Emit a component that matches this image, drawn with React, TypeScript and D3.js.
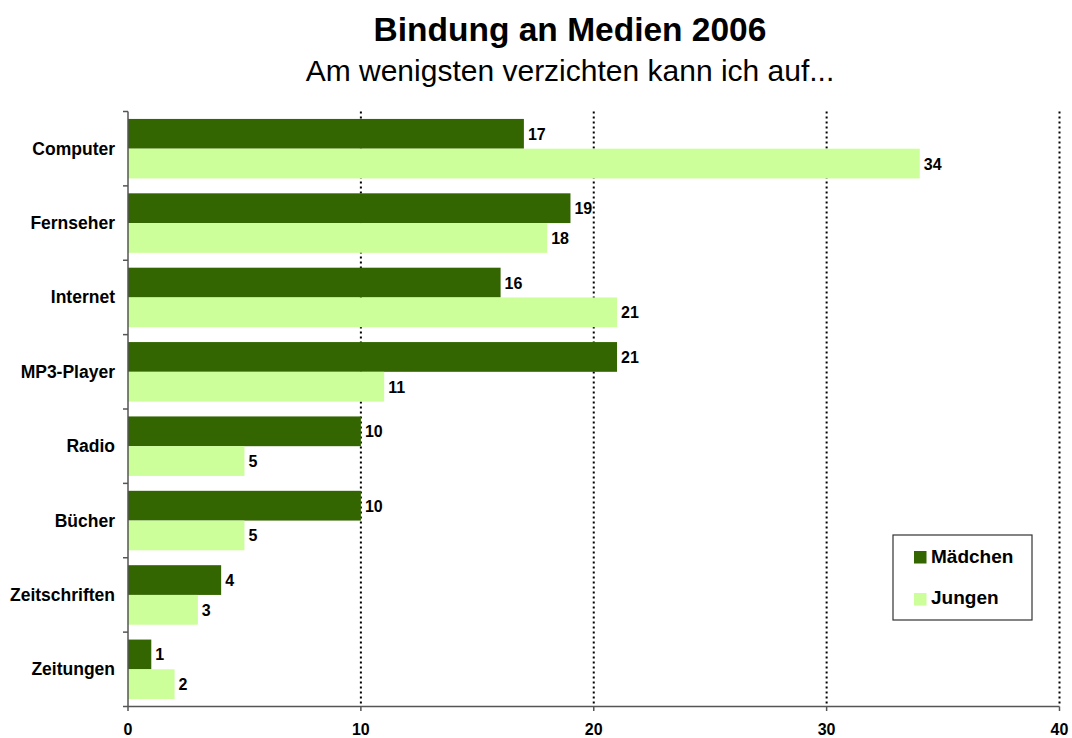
import React, { useEffect, useRef } from "react";
import * as d3 from "d3";

const categories = ["Computer", "Fernseher", "Internet", "MP3-Player", "Radio", "Bücher", "Zeitschriften", "Zeitungen"];
const seriesNames = ["Mädchen", "Jungen"];
const maedchen = [17, 19, 16, 21, 10, 10, 4, 1];
const jungen = [34, 18, 21, 11, 5, 5, 3, 2];
const xTicks = [0, 10, 20, 30, 40];
const colors = ["#336600", "#ccff99"];

const W = 1072;
const H = 738;

export default function App() {
  const ref = useRef<SVGSVGElement | null>(null);

  useEffect(() => {
    const svg = d3.select(ref.current);
    svg.selectAll("*").remove();
    const font = "'Liberation Sans', Arial, sans-serif";

    const x = d3.scaleLinear().domain([0, 40]).range([128, 1059.5]);
    const y = d3.scaleBand<string>().domain(categories).range([111.5, 706.5]).paddingInner(0.2).paddingOuter(0.1);
    const inner = d3.scaleBand<string>().domain(seriesNames).range([0, y.bandwidth()]);

    // title
    svg.append("text").attr("x", 570).attr("y", 41).attr("text-anchor", "middle")
      .attr("font-family", font).attr("font-weight", "bold").attr("font-size", 33.5).text("Bindung an Medien 2006");
    svg.append("text").attr("x", 570).attr("y", 81).attr("text-anchor", "middle")
      .attr("font-family", font).attr("font-size", 30).text("Am wenigsten verzichten kann ich auf...");

    // gridlines
    svg.append("g").selectAll("line").data(xTicks.filter((t) => t > 0)).join("line")
      .attr("x1", (d) => x(d)).attr("x2", (d) => x(d))
      .attr("y1", 111.5).attr("y2", 706.5)
      .attr("stroke", "#000").attr("stroke-width", 2).attr("stroke-dasharray", "2,3");

    // bars
    const rows = categories.map((c, i) => ({ c, vals: [maedchen[i], jungen[i]] }));
    const g = svg.append("g").selectAll("g").data(rows).join("g")
      .attr("transform", (d) => `translate(0,${y(d.c)})`);
    g.selectAll("rect").data((d) => d.vals.map((v, j) => ({ v, s: seriesNames[j], j }))).join("rect")
      .attr("x", x(0)).attr("y", (d) => inner(d.s)!)
      .attr("width", (d) => x(d.v) - x(0)).attr("height", inner.bandwidth())
      .attr("fill", (d) => colors[d.j]);
    g.selectAll("text").data((d) => d.vals.map((v, j) => ({ v, s: seriesNames[j] }))).join("text")
      .attr("x", (d) => x(d.v) + 4).attr("y", (d) => inner(d.s)! + inner.bandwidth() / 2 + 6)
      .attr("font-family", font).attr("font-weight", "bold").attr("font-size", 16)
      .text((d) => d.v);

    // y axis
    const yAxis = svg.append("g");
    yAxis.append("line").attr("x1", 128).attr("x2", 128).attr("y1", 111.5).attr("y2", 706.5)
      .attr("stroke", "#555").attr("stroke-width", 1.5);
    const step = y.step();
    const boundaries = d3.range(categories.length + 1).map((i) => 111.5 + i * step);
    yAxis.selectAll("line.tk").data(boundaries).join("line").attr("class", "tk")
      .attr("x1", 123).attr("x2", 128).attr("y1", (d) => d).attr("y2", (d) => d)
      .attr("stroke", "#555").attr("stroke-width", 1.5);
    yAxis.selectAll("text").data(categories).join("text")
      .attr("x", 115).attr("y", (d) => y(d)! + y.bandwidth() / 2 + 6)
      .attr("text-anchor", "end").attr("font-family", font).attr("font-weight", "bold").attr("font-size", 17.5)
      .text((d) => d);

    // x axis
    const xAxis = svg.append("g");
    xAxis.append("line").attr("x1", 128).attr("x2", 1059.5).attr("y1", 706.5).attr("y2", 706.5)
      .attr("stroke", "#555").attr("stroke-width", 1.5);
    xAxis.selectAll("line.tk").data(xTicks).join("line").attr("class", "tk")
      .attr("x1", (d) => x(d)).attr("x2", (d) => x(d)).attr("y1", 706.5).attr("y2", 711)
      .attr("stroke", "#555").attr("stroke-width", 1.5);
    xAxis.selectAll("text").data(xTicks).join("text")
      .attr("x", (d) => x(d)).attr("y", 735)
      .attr("text-anchor", "middle").attr("font-family", font).attr("font-weight", "bold").attr("font-size", 16)
      .text((d) => d);

    // legend
    const lg = svg.append("g").attr("transform", "translate(893,535)");
    lg.append("rect").attr("width", 139).attr("height", 85).attr("fill", "#fff")
      .attr("stroke", "#333").attr("stroke-width", 1.2);
    seriesNames.forEach((s, i) => {
      lg.append("rect").attr("x", 21).attr("y", 16 + i * 42).attr("width", 12.5).attr("height", 12.5).attr("fill", colors[i]);
      lg.append("text").attr("x", 38).attr("y", 28 + i * 40.5)
        .attr("font-family", font).attr("font-weight", "bold").attr("font-size", 19).text(s);
    });
  }, []);

  return (
    <svg ref={ref} width={W} height={H} style={{ position: "absolute", left: 0, top: 0, background: "#fff" }} />
  );
}
